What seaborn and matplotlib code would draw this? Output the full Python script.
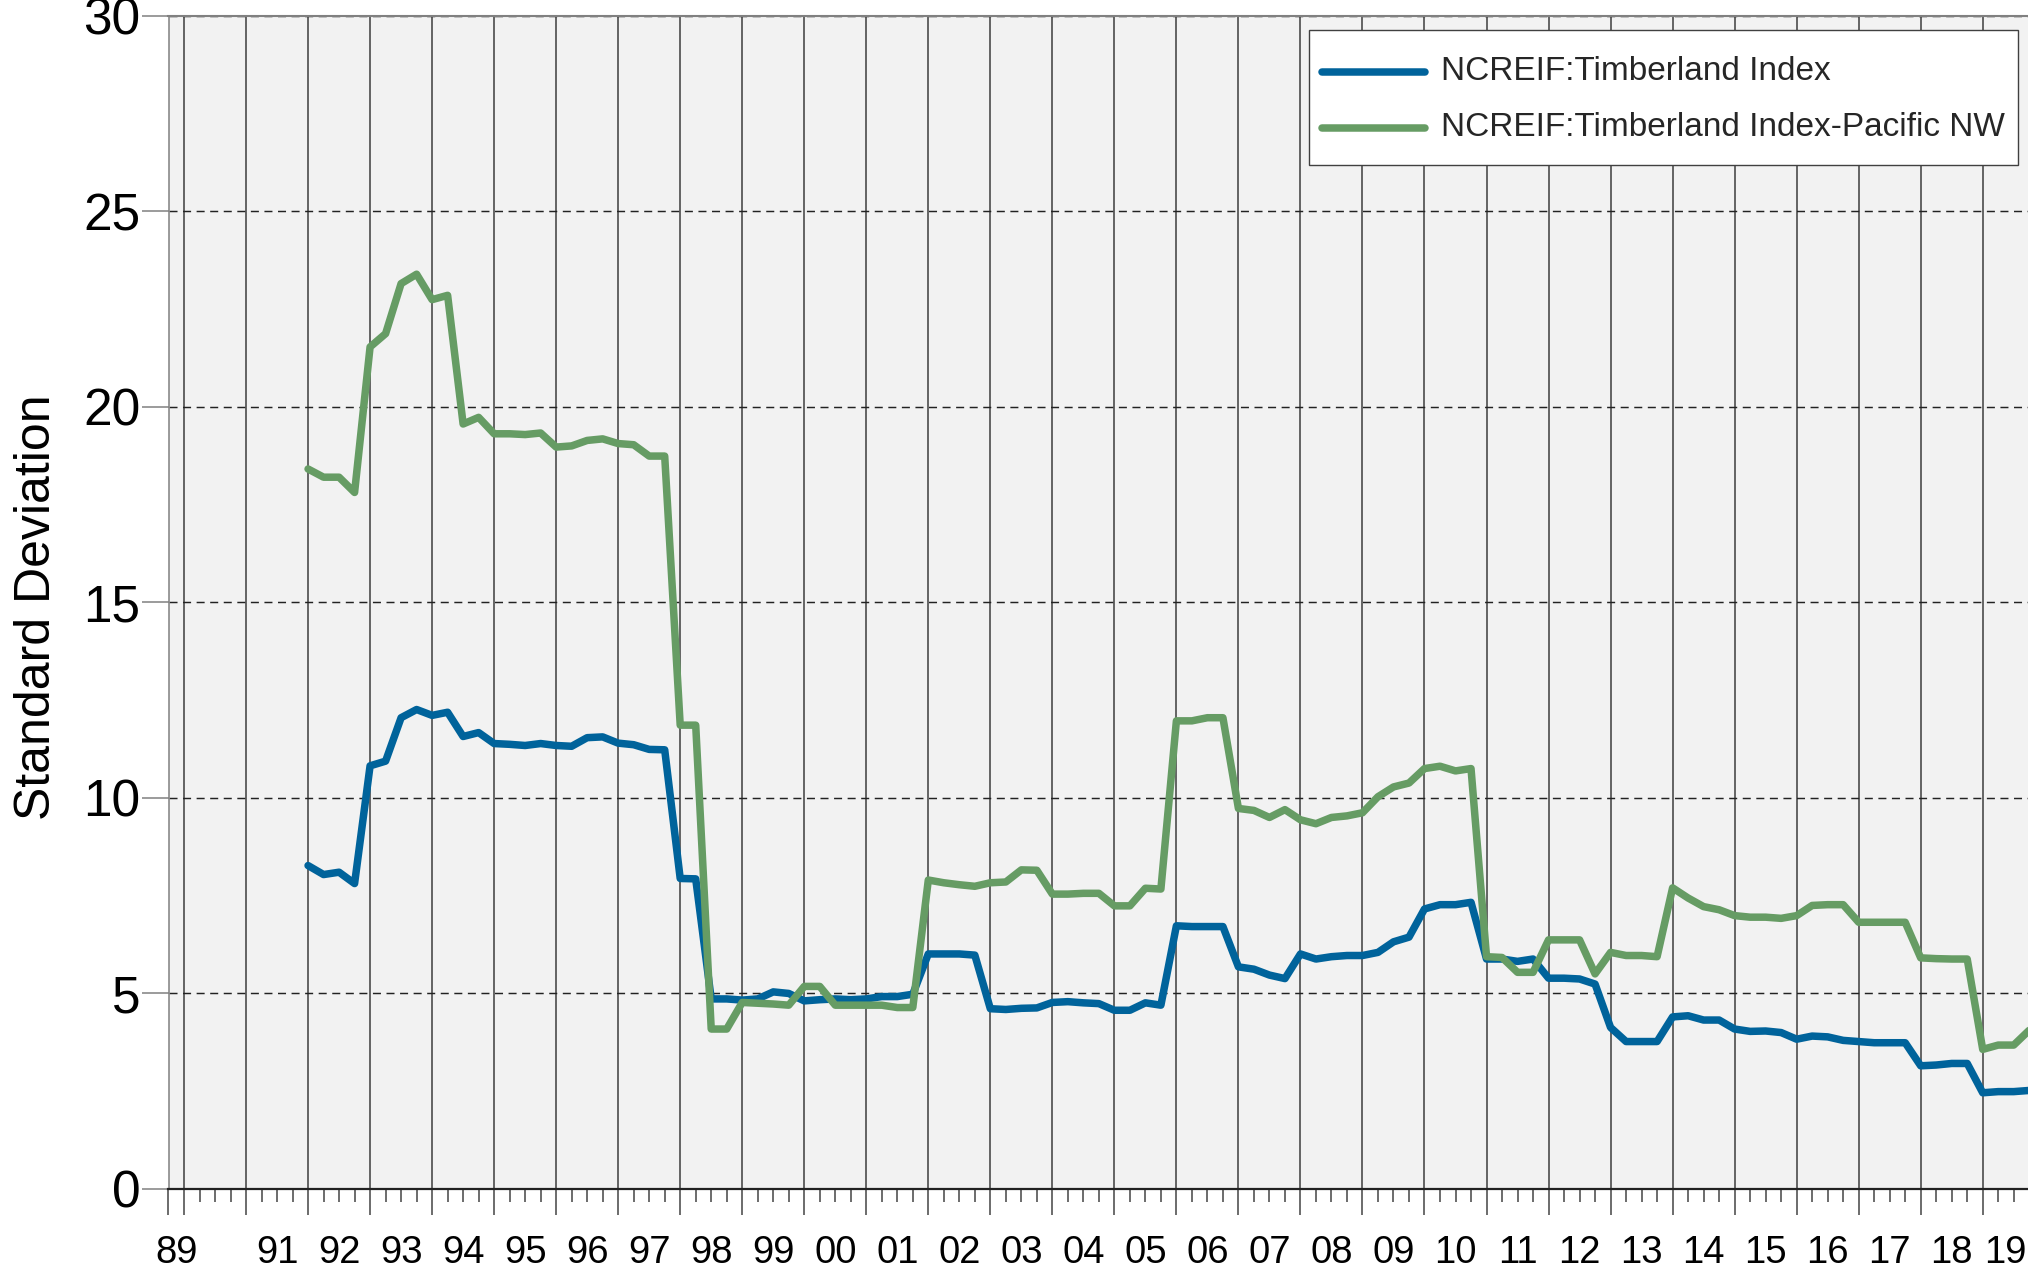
import matplotlib
matplotlib.use("Agg")
import matplotlib.pyplot as plt
import seaborn as sns
import numpy as np
import pandas as pd

# ---------------- data ----------------
series_names = ["NCREIF:Timberland Index", "NCREIF:Timberland Index-Pacific NW"]
start_year = 1992
end_year = 2019

timberland = [
    8.27, 8.04, 8.10, 7.81,      # 1992
    10.82, 10.94, 12.05, 12.26,  # 1993
    12.11, 12.19, 11.57, 11.67,  # 1994
    11.39, 11.37, 11.34, 11.39,  # 1995
    11.34, 11.32, 11.54, 11.56,  # 1996
    11.40, 11.36, 11.24, 11.23,  # 1997
    7.94, 7.93, 4.86, 4.86,      # 1998
    4.83, 4.86, 5.04, 5.00,      # 1999
    4.81, 4.84, 4.86, 4.84,      # 2000
    4.86, 4.92, 4.92, 4.98,      # 2001
    6.01, 6.01, 6.01, 5.98,      # 2002
    4.61, 4.59, 4.62, 4.63,      # 2003
    4.77, 4.79, 4.76, 4.74,      # 2004
    4.57, 4.57, 4.76, 4.70,      # 2005
    6.73, 6.71, 6.71, 6.71,      # 2006
    5.68, 5.62, 5.47, 5.38,      # 2007
    6.01, 5.88, 5.94, 5.97,      # 2008
    5.97, 6.05, 6.32, 6.44,      # 2009
    7.16, 7.27, 7.27, 7.33,      # 2010
    5.88, 5.88, 5.82, 5.88,      # 2011
    5.39, 5.39, 5.37, 5.24,      # 2012
    4.13, 3.77, 3.77, 3.77,      # 2013
    4.40, 4.43, 4.32, 4.32,      # 2014
    4.09, 4.03, 4.04, 4.00,      # 2015
    3.83, 3.91, 3.89, 3.80,      # 2016
    3.77, 3.74, 3.74, 3.74,      # 2017
    3.15, 3.17, 3.21, 3.21,      # 2018
    2.46, 2.49, 2.49, 2.52,      # 2019
]

pacific_nw = [
    18.41, 18.20, 18.20, 17.81,  # 1992
    21.53, 21.87, 23.15, 23.39,  # 1993
    22.74, 22.85, 19.56, 19.73,  # 1994
    19.31, 19.31, 19.29, 19.33,  # 1995
    18.97, 19.00, 19.14, 19.18,  # 1996
    19.06, 19.03, 18.74, 18.74,  # 1997
    11.86, 11.86, 4.09, 4.09,    # 1998
    4.77, 4.75, 4.73, 4.70,      # 1999
    5.18, 5.18, 4.70, 4.70,      # 2000
    4.70, 4.70, 4.64, 4.64,      # 2001
    7.90, 7.83, 7.78, 7.74,      # 2002
    7.83, 7.85, 8.16, 8.15,      # 2003
    7.54, 7.54, 7.56, 7.56,      # 2004
    7.24, 7.24, 7.69, 7.67,      # 2005
    11.97, 11.97, 12.05, 12.05,  # 2006
    9.73, 9.68, 9.50, 9.70,      # 2007
    9.44, 9.34, 9.50, 9.54,      # 2008
    9.62, 10.03, 10.28, 10.38,   # 2009
    10.75, 10.81, 10.69, 10.75,  # 2010
    5.94, 5.92, 5.54, 5.54,      # 2011
    6.37, 6.37, 6.37, 5.50,      # 2012
    6.05, 5.97, 5.97, 5.94,      # 2013
    7.70, 7.44, 7.22, 7.14,      # 2014
    6.99, 6.95, 6.95, 6.92,      # 2015
    6.99, 7.25, 7.27, 7.27,      # 2016
    6.82, 6.82, 6.82, 6.82,      # 2017
    5.91, 5.89, 5.88, 5.88,      # 2018
    3.57, 3.68, 3.68, 4.06,      # 2019
]

year_labels = ["89"] + [f"{y % 100:02d}" for y in range(1991, 2020)]
y_ticks = [0, 5, 10, 15, 20, 25, 30]

# quarterly positions
x_vals = [y + q for y in range(start_year, end_year + 1) for q in (0.0, 0.25, 0.5, 0.75)]

df = pd.DataFrame({
    "x": x_vals * 2,
    "value": timberland + pacific_nw,
    "series": [series_names[0]] * len(x_vals) + [series_names[1]] * len(x_vals),
})

# ---------------- style ----------------
sns.set_theme(style="white")
plt.rcParams["font.family"] = ["Liberation Sans", "DejaVu Sans"]

colors = ["#00639b", "#669c64"]
line_w = 5.4

W, H = 2028, 1274
fig = plt.figure(figsize=(W / 100, H / 100), dpi=100)
ax_left, ax_right = 168.5, 2028.0
ax_top, ax_bottom = 15.7, 1189.0
ax = fig.add_axes([ax_left / W, (H - ax_bottom) / H,
                   (ax_right - ax_left) / W, (ax_bottom - ax_top) / H])
ax.set_facecolor("#f2f2f2")

sns.lineplot(data=df, x="x", y="value", hue="series", hue_order=series_names,
             palette=colors, linewidth=line_w, estimator=None, legend=False, ax=ax)
for ln, nm in zip(ax.lines, series_names):
    ln.set_label(nm)
    ln.set_solid_joinstyle("round")

xmin, xmax = 1989.75, 2019.73
ax.set_xlim(xmin, xmax)
ax.set_ylim(0, 30)

# y axis
ax.set_yticks(y_ticks)
ax.set_yticklabels([str(v) for v in y_ticks])
ax.tick_params(axis="y", which="major", left=True, length=19.4, width=1.1,
               color="#808080", pad=0.8, labelsize=37, labelcolor="black")
ax.grid(axis="y", which="major", color="#222222", linewidth=1.05,
        linestyle=(0, (5.5, 3.8)))

# x axis: year boundaries (major) and quarters (minor)
major_x = [xmin] + list(range(1990, 2020))
minor_x = [y + q for y in range(1990, 2020) for q in (0.25, 0.5, 0.75) if y + q < xmax]
ax.set_xticks(major_x)
ax.set_xticks(minor_x, minor=True)
ax.tick_params(axis="x", which="major", bottom=True, length=18.7, width=1.1,
               color="#444444", labelbottom=False)
ax.tick_params(axis="x", which="minor", bottom=True, length=9.4, width=1.1,
               color="#444444")
ax.grid(axis="x", which="major", color="#444444", linewidth=1.15, linestyle="-")

# year labels centered in each (visible) year interval
centers = [(xmin + 1990) / 2] + [y + 0.5 for y in range(1991, 2019)] + [(2019 + xmax) / 2]
sec = ax.secondary_xaxis("bottom")
sec.set_xticks(centers)
sec.set_xticklabels(year_labels)
sec.tick_params(axis="x", which="both", length=0, pad=33, labelsize=27.5,
                labelcolor="black")
sec.spines["bottom"].set_visible(False)

# spines
ax.spines["right"].set_visible(False)
ax.spines["top"].set_color("#808080")
ax.spines["top"].set_linewidth(1.5)
ax.spines["left"].set_color("#808080")
ax.spines["left"].set_linewidth(1.1)
ax.spines["bottom"].set_color("#222222")
ax.spines["bottom"].set_linewidth(1.6)

ax.set_xlabel("")
ax.set_ylabel("Standard Deviation", fontsize=36, color="black")
ax.yaxis.set_label_coords((60 - ax_left) / (ax_right - ax_left), 0.4956)

# legend
leg = ax.legend(loc="upper right",
                bbox_to_anchor=((2018 - ax_left) / (ax_right - ax_left),
                                (ax_bottom - 30) / (ax_bottom - ax_top)),
                borderaxespad=0, frameon=True, fancybox=False, framealpha=1,
                facecolor="white", edgecolor="#404040", fontsize=24,
                handlelength=3.1, handleheight=2.04, handletextpad=0.47,
                labelspacing=0.13, borderpad=0.39)
leg.get_frame().set_linewidth(1.0)
for lh in leg.get_lines():
    lh.set_linewidth(line_w)
    lh.set_solid_capstyle("round")
    lh.set_ydata(np.asarray(lh.get_ydata(), dtype=float) - 7.4)

fig.savefig("out.png", dpi=100, facecolor="white")
